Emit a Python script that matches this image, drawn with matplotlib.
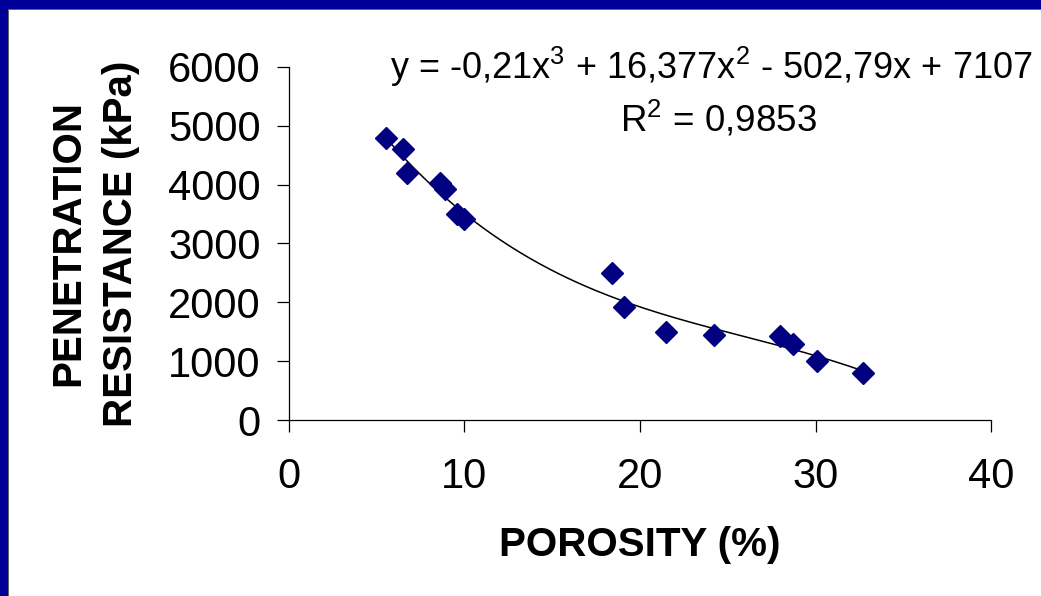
import numpy as np
import matplotlib
matplotlib.use("Agg")
import matplotlib.pyplot as plt
from matplotlib.patches import Rectangle

plt.rcParams['font.family'] = ['Liberation Sans', 'DejaVu Sans']
plt.rcParams['mathtext.fontset'] = 'custom'
plt.rcParams['mathtext.rm'] = 'Liberation Sans'
plt.rcParams['mathtext.default'] = 'regular'

# Measured points: porosity (%) vs penetration resistance (kPa)
porosity = [5.5, 6.5, 6.7, 8.6, 8.9, 9.6, 10.0, 18.4, 19.1, 21.5, 24.2, 28.0, 28.7, 30.1, 32.7]
resistance = [4800, 4600, 4200, 4020, 3930, 3500, 3420, 2500, 1920, 1500, 1450, 1420, 1300, 1000, 800]

# Third-order trend line coefficients (x^3, x^2, x, const) and R^2
coef = [-0.21, 16.377, -502.79, 7107]
r2 = 0.9853

xticks = [0, 10, 20, 30, 40]
yticks = [0, 1000, 2000, 3000, 4000, 5000, 6000]

fig = plt.figure(figsize=(10.41, 5.96), dpi=100)
ax = fig.add_axes([0.2776, 0.2953, 0.6744, 0.5923])

# trend line over the range of the data
xs = np.linspace(min(porosity), max(porosity), 200)
ax.plot(xs, np.polyval(coef, xs), color='black', lw=1.1, zorder=2)
ax.plot(porosity, resistance, ls='none', marker='D', ms=11,
        color='#000080', mec='#000080', zorder=3)

ax.set_xlim(0, 40)
ax.set_ylim(0, 6000)
ax.set_xticks(xticks)
ax.set_yticks(yticks)
ax.tick_params(axis='both', direction='out', length=8.5, width=0.9,
               labelsize=30, color='black')
ax.tick_params(axis='x', pad=18)
ax.tick_params(axis='y', pad=12)
for s in ['top', 'right']:
    ax.spines[s].set_visible(False)
for s in ['left', 'bottom']:
    ax.spines[s].set_linewidth(0.9)

ax.set_xlabel('POROSITY (%)', fontsize=29, fontweight='bold', labelpad=21)
ax.set_ylabel('PENETRATION\nRESISTANCE (kPa)', fontsize=29, fontweight='bold',
              labelpad=20, linespacing=1.5)


def num(v):
    return ('%g' % abs(v)).replace('.', ',')


eq = (r'y = %s%sx$^3$ %s %sx$^2$ %s %sx %s %s' %
      ('-' if coef[0] < 0 else '', num(coef[0]),
       '-' if coef[1] < 0 else '+', num(coef[1]),
       '-' if coef[2] < 0 else '+', num(coef[2]),
       '-' if coef[3] < 0 else '+', num(coef[3])))
fig.text(0.683, 0.888, eq, fontsize=26, ha='center', va='center')
fig.text(0.69, 0.80, r'R$^2$ = ' + num(r2), fontsize=26.5, ha='center', va='center')

# blue frame on the left and top edges
W, H = 1041, 596
fig.add_artist(Rectangle((0, 0), 8 / W, 1, transform=fig.transFigure,
                         color='#000099', lw=0, zorder=10))
fig.add_artist(Rectangle((0, 1 - 9 / H), 1, 9 / H, transform=fig.transFigure,
                         color='#000099', lw=0, zorder=10))
fig.add_artist(Rectangle((8 / W, 0), 1 / W, 1 - 9 / H, transform=fig.transFigure,
                         color='#666666', lw=0, zorder=10))
fig.add_artist(Rectangle((8 / W, 1 - 10 / H), 1, 1 / H, transform=fig.transFigure,
                         color='#666666', lw=0, zorder=10))

fig.savefig('out.png', dpi=100)
